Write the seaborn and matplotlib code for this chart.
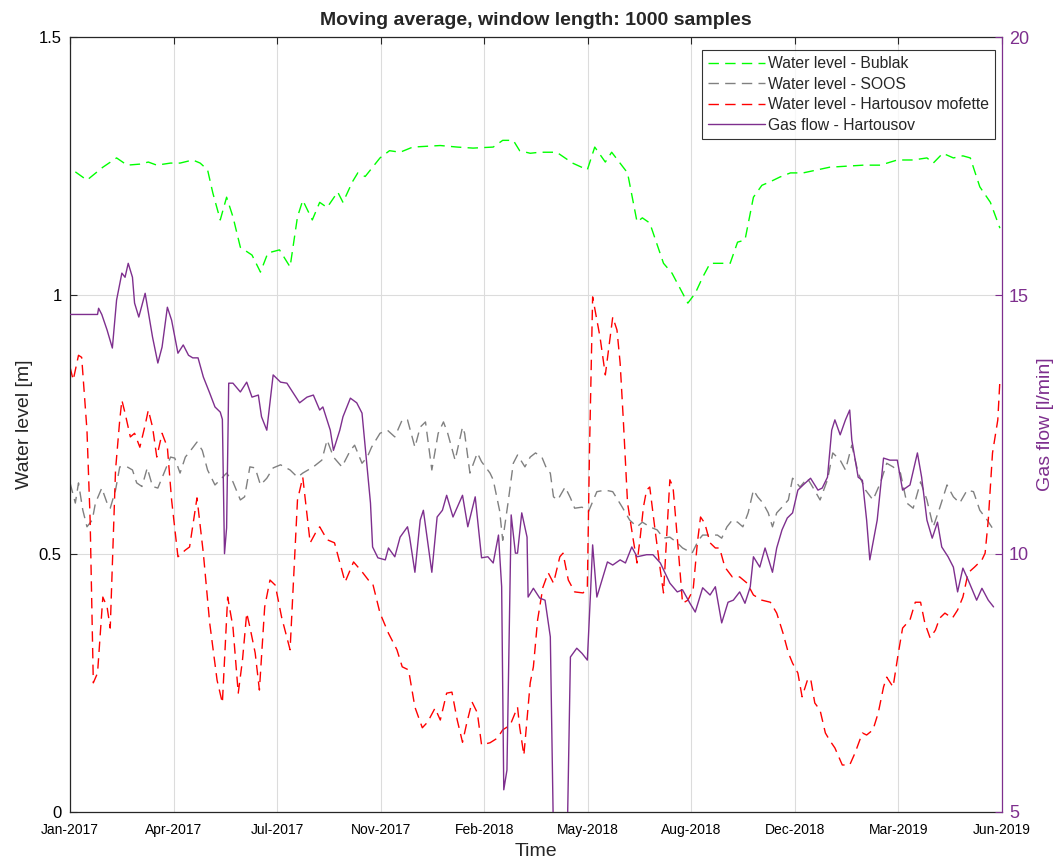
import numpy as np
import pandas as pd
import matplotlib
matplotlib.use("Agg")
import matplotlib.pyplot as plt
import seaborn as sns

# ---- Data (days since start of record, moving-average values) ----
tick_labels = ["Jan-2017", "Apr-2017", "Jul-2017", "Nov-2017", "Feb-2018",
               "May-2018", "Aug-2018", "Dec-2018", "Mar-2019", "Jun-2019"]
span_days = 881

bublak_days = [5, 16, 31, 44, 54, 66, 74, 82, 95, 104, 116, 123, 130, 135, 142, 148, 154, 161,
               172, 180, 187, 198, 208, 215, 220, 229, 236, 243, 253, 258, 267, 272, 279, 293,
               302, 312, 324, 350, 366, 381, 400, 409, 419, 425, 435, 444, 460, 475, 489, 496,
               506, 512, 527, 536, 541, 548, 561, 569, 584, 591, 598, 605, 624, 631, 638, 646,
               654, 662, 671, 681, 693, 718, 734, 750, 766, 782, 797, 810, 816, 825, 835, 844,
               851, 860, 870, 879]
bublak_level = [1.239, 1.223, 1.248, 1.266, 1.252, 1.254, 1.258, 1.252, 1.256, 1.256, 1.262,
                1.256, 1.243, 1.198, 1.146, 1.19, 1.152, 1.093, 1.078, 1.045, 1.082, 1.088,
                1.055, 1.152, 1.184, 1.146, 1.18, 1.17, 1.20, 1.18, 1.22, 1.237, 1.23, 1.266,
                1.28, 1.277, 1.287, 1.29, 1.287, 1.285, 1.287, 1.30, 1.30, 1.28, 1.275, 1.277,
                1.277, 1.256, 1.243, 1.287, 1.258, 1.277, 1.237, 1.142, 1.15, 1.14, 1.062,
                1.043, 0.985, 1.004, 1.035, 1.062, 1.062, 1.103, 1.107, 1.19, 1.213, 1.22,
                1.229, 1.237, 1.237, 1.248, 1.25, 1.252, 1.252, 1.262, 1.262, 1.266, 1.256,
                1.275, 1.266, 1.27, 1.266, 1.21, 1.18, 1.13]

soos_days = [0, 5, 8, 12, 16, 21, 24, 30, 35, 38, 43, 47, 54, 59, 63, 68, 73, 78, 83, 88, 95,
             99, 104, 109, 113, 120, 125, 130, 137, 142, 148, 154, 161, 165, 170, 175, 180, 186,
             192, 199, 208, 215, 220, 230, 238, 243, 249, 257, 265, 269, 276, 281, 285, 293,
             300, 307, 314, 319, 326, 331, 336, 342, 348, 353, 357, 364, 371, 373, 378, 385,
             389, 397, 400, 406, 409, 414, 419, 423, 430, 435, 440, 446, 451, 454, 457, 461,
             468, 473, 477, 484, 490, 498, 506, 513, 522, 529, 536, 541, 548, 555, 561, 567,
             574, 579, 588, 594, 598, 612, 616, 621, 626, 631, 636, 641, 646, 650, 655, 660,
             664, 668, 673, 679, 683, 690, 697, 702, 709, 716, 721, 728, 733, 739, 745, 752,
             759, 766, 772, 778, 785, 791, 797, 804, 810, 816, 822, 829, 835, 841, 848, 854,
             860, 867, 873]
soos_level = [0.637, 0.598, 0.637, 0.585, 0.552, 0.565, 0.598, 0.627, 0.598, 0.588, 0.623,
              0.668, 0.668, 0.662, 0.637, 0.630, 0.666, 0.630, 0.627, 0.652, 0.687, 0.685,
              0.656, 0.687, 0.697, 0.716, 0.70, 0.662, 0.633, 0.643, 0.656, 0.639, 0.604,
              0.610, 0.668, 0.666, 0.633, 0.646, 0.666, 0.672, 0.662, 0.648, 0.656, 0.668,
              0.681, 0.72, 0.687, 0.668, 0.70, 0.71, 0.675, 0.687, 0.706, 0.733, 0.739, 0.726,
              0.759, 0.759, 0.706, 0.745, 0.755, 0.662, 0.733, 0.755, 0.733, 0.681, 0.745,
              0.733, 0.656, 0.695, 0.678, 0.656, 0.643, 0.584, 0.526, 0.598, 0.675, 0.691,
              0.668, 0.687, 0.695, 0.687, 0.662, 0.656, 0.61, 0.604, 0.629, 0.608, 0.588,
              0.590, 0.581, 0.62, 0.623, 0.62, 0.59, 0.565, 0.552, 0.561, 0.552, 0.546, 0.53,
              0.532, 0.521, 0.511, 0.501, 0.526, 0.536, 0.536, 0.530, 0.552, 0.565, 0.561,
              0.552, 0.579, 0.623, 0.610, 0.598, 0.579, 0.552, 0.579, 0.590, 0.604, 0.646,
              0.629, 0.646, 0.629, 0.604, 0.643, 0.695, 0.681, 0.662, 0.71, 0.656, 0.623,
              0.604, 0.637, 0.675, 0.668, 0.656, 0.598, 0.588, 0.639, 0.604, 0.552, 0.588,
              0.633, 0.610, 0.598, 0.623, 0.620, 0.584, 0.565, 0.546]

mofette_days = [0, 3, 8, 11, 16, 19, 22, 26, 31, 35, 38, 43, 47, 49, 52, 57, 61, 66, 71, 74,
                78, 82, 87, 92, 96, 102, 109, 113, 120, 126, 132, 139, 144, 149, 154, 159, 163,
                167, 170, 175, 179, 184, 189, 194, 200, 208, 215, 220, 227, 232, 236, 243, 250,
                260, 268, 276, 282, 286, 293, 301, 309, 314, 320, 326, 333, 338, 345, 350, 356,
                361, 366, 371, 375, 380, 385, 389, 397, 404, 409, 416, 423, 425, 429, 435, 438,
                442, 447, 452, 457, 463, 466, 471, 477, 485, 489, 491, 494, 498, 501, 506, 509,
                513, 517, 520, 523, 527, 532, 536, 539, 542, 545, 548, 553, 558, 561, 564, 567,
                570, 575, 579, 584, 589, 593, 596, 600, 605, 610, 614, 619, 626, 633, 640, 646,
                654, 662, 668, 674, 679, 683, 688, 692, 697, 700, 704, 709, 714, 718, 723, 730,
                737, 742, 749, 753, 759, 764, 769, 772, 778, 783, 787, 794, 799, 804, 808, 813,
                818, 822, 827, 834, 839, 844, 849, 855, 862, 865, 868, 872, 877, 879]
mofette_level = [0.861, 0.836, 0.884, 0.880, 0.739, 0.565, 0.25, 0.269, 0.416, 0.397, 0.356,
                 0.662, 0.759, 0.797, 0.772, 0.726, 0.733, 0.706, 0.749, 0.778, 0.745, 0.687,
                 0.733, 0.706, 0.604, 0.494, 0.507, 0.513, 0.608, 0.501, 0.366, 0.255, 0.211,
                 0.416, 0.358, 0.23, 0.294, 0.385, 0.358, 0.308, 0.236, 0.397, 0.449, 0.439,
                 0.377, 0.314, 0.604, 0.648, 0.521, 0.540, 0.552, 0.527, 0.521, 0.445, 0.484,
                 0.465, 0.449, 0.443, 0.385, 0.346, 0.314, 0.281, 0.275, 0.203, 0.163, 0.174,
                 0.201, 0.178, 0.23, 0.232, 0.178, 0.135, 0.172, 0.213, 0.192, 0.13, 0.134,
                 0.143, 0.159, 0.168, 0.203, 0.165, 0.11, 0.25, 0.281, 0.372, 0.435, 0.463,
                 0.443, 0.494, 0.501, 0.449, 0.426, 0.424, 0.435, 0.695, 0.997, 0.952, 0.919,
                 0.846, 0.894, 0.958, 0.933, 0.869, 0.759, 0.598, 0.532, 0.482, 0.532, 0.590,
                 0.623, 0.629, 0.546, 0.468, 0.424, 0.532, 0.643, 0.629, 0.507, 0.404, 0.410,
                 0.43, 0.521, 0.571, 0.559, 0.521, 0.511, 0.511, 0.474, 0.455, 0.455, 0.443,
                 0.42, 0.41, 0.406, 0.385, 0.346, 0.308, 0.288, 0.269, 0.223, 0.255, 0.259,
                 0.211, 0.197, 0.153, 0.139, 0.124, 0.091, 0.091, 0.114, 0.153, 0.149, 0.159,
                 0.192, 0.242, 0.261, 0.242, 0.308, 0.356, 0.372, 0.406, 0.406, 0.366, 0.337,
                 0.352, 0.375, 0.385, 0.375, 0.391, 0.416, 0.463, 0.474, 0.488, 0.501, 0.565,
                 0.695, 0.759, 0.836]

gas_days = [0, 26, 27, 30, 35, 40, 44, 49, 52, 55, 59, 61, 65, 71, 78, 83, 87, 92, 96, 102,
            107, 112, 116, 121, 126, 132, 137, 142, 144, 146, 148, 150, 154, 161, 167, 172,
            178, 181, 186, 192, 199, 205, 211, 217, 224, 230, 236, 239, 246, 249, 255, 258,
            265, 271, 276, 279, 284, 286, 291, 298, 301, 307, 312, 319, 321, 326, 331, 334,
            342, 347, 352, 356, 362, 371, 376, 383, 389, 395, 400, 405, 408, 410, 413, 417,
            421, 423, 427, 432, 433, 438, 444, 449, 454, 457, 470, 473, 479, 484, 489, 492,
            494, 498, 508, 513, 520, 525, 531, 536, 545, 551, 558, 567, 574, 579, 586, 591,
            598, 605, 610, 616, 622, 627, 633, 638, 643, 646, 652, 657, 664, 668, 673, 678,
            683, 688, 693, 700, 707, 711, 716, 720, 723, 728, 733, 737, 739, 745, 749, 753,
            756, 763, 769, 775, 782, 787, 794, 801, 805, 810, 815, 820, 824, 830, 835, 839,
            844, 849, 857, 862, 868, 873]
gas_flow = [14.63, 14.63, 14.75, 14.63, 14.33, 13.98, 14.91, 15.43, 15.35, 15.62, 15.35,
            14.85, 14.58, 15.04, 14.19, 13.69, 14.0, 14.77, 14.52, 13.88, 14.04, 13.84, 13.79,
            13.79, 13.42, 13.11, 12.84, 12.74, 12.6, 10.0, 10.5, 13.3, 13.3, 13.13, 13.32,
            13.03, 13.07, 12.65, 12.39, 13.46, 13.32, 13.3, 13.11, 12.92, 13.03, 13.07, 12.78,
            12.84, 12.39, 12.0, 12.39, 12.65, 13.01, 12.92, 12.72, 12.06, 10.98, 10.13, 9.92,
            9.88, 10.11, 9.94, 10.32, 10.52, 10.32, 9.64, 10.65, 10.84, 9.64, 10.71, 10.84,
            11.13, 10.71, 11.13, 10.52, 11.10, 9.92, 9.94, 9.82, 10.36, 9.36, 5.43, 5.81,
            10.75, 10.01, 10.01, 10.79, 10.32, 9.16, 9.33, 9.14, 9.10, 8.39, 4.5, 4.5, 8.0,
            8.17, 8.07, 7.94, 9.24, 10.17, 9.16, 9.84, 9.78, 9.88, 9.82, 10.13, 9.94, 9.98,
            9.98, 9.82, 9.43, 9.26, 9.30, 9.04, 8.87, 9.34, 9.20, 9.36, 8.66, 9.06, 9.10,
            9.26, 9.04, 9.36, 9.94, 9.74, 10.11, 9.64, 10.11, 10.46, 10.69, 10.79, 11.23,
            11.33, 11.46, 11.23, 11.27, 11.48, 12.39, 12.59, 12.3, 12.59, 12.78, 12.2, 11.48,
            11.42, 10.65, 9.88, 10.65, 11.85, 11.81, 11.81, 11.23, 11.33, 11.95, 11.48,
            10.65, 10.30, 10.61, 10.13, 9.94, 9.74, 9.26, 9.72, 9.49, 9.10, 9.33, 9.10, 8.97]

# ---- Style ----
sns.set_style("white")
plt.rcParams["font.family"] = ["Liberation Sans", "DejaVu Sans"]
plt.rcParams["font.size"] = 10

purple = "#7E2F8E"
axis_col = "#262626"
dash = (0, (7.5, 4.5))

fig = plt.figure(figsize=(10.58, 8.63), dpi=100)
ax = fig.add_axes([0.0662, 0.0591, 0.8809, 0.8980])
ax2 = ax.twinx()

series = [
    (bublak_days, bublak_level, "#00FF00", "Water level - Bublak"),
    (soos_days, soos_level, "#808080", "Water level - SOOS"),
    (mofette_days, mofette_level, "#FF0000", "Water level - Hartousov mofette"),
]
for days, vals, col, lab in series:
    df = pd.DataFrame({"day": days, "value": vals})
    sns.lineplot(data=df, x="day", y="value", ax=ax, color=col, linewidth=1.0,
                 linestyle=dash, estimator=None, sort=False, label=lab, legend=False)

gas_df = pd.DataFrame({"day": gas_days, "flow": gas_flow})
sns.lineplot(data=gas_df, x="day", y="flow", ax=ax2, color=purple, linewidth=1.0,
             estimator=None, sort=False, label="Gas flow - Hartousov", legend=False)

# ---- Axes ----
ax.set_xlim(0, span_days)
ax.set_ylim(0, 1.5)
ax2.set_ylim(5, 20)
ax.set_xticks(np.linspace(0, span_days, len(tick_labels)))
ax.set_xticklabels(tick_labels)
ax.set_yticks([0, 0.5, 1, 1.5])
ax.set_yticklabels(["0", "0.5", "1", "1.5"])
ax2.set_yticks([5, 10, 15, 20])

ax.grid(True, color="#dcdcdc", linewidth=0.8)
ax.set_axisbelow(True)

ax.tick_params(axis="x", direction="in", length=5, top=True, colors=axis_col,
               labelsize=10, pad=8, labelcolor="black")
ax.tick_params(axis="y", direction="in", length=5, colors=axis_col, labelsize=12,
               labelcolor="black", pad=6)
ax2.tick_params(axis="y", direction="in", length=5, colors=purple, labelsize=13, pad=5)

for side in ["left", "bottom", "top"]:
    ax.spines[side].set_color(axis_col)
    ax.spines[side].set_linewidth(0.9)
    ax2.spines[side].set_visible(False)
ax.spines["right"].set_visible(False)
ax2.spines["right"].set_color(purple)
ax2.spines["right"].set_linewidth(0.9)

ax.set_xlabel("Time", fontsize=14, labelpad=4)
ax.set_ylabel("Water level [m]", fontsize=14, labelpad=4)
ax2.set_ylabel("Gas flow [l/min]", fontsize=14, color=purple, labelpad=6)
ax.set_title("Moving average, window length: 1000 samples", fontsize=14,
             fontweight="bold", pad=9)

handles = ax.get_lines()[:3] + ax2.get_lines()[:1]
labels = [h.get_label() for h in handles]
leg = ax2.legend(handles, labels, loc="upper right", bbox_to_anchor=(0.9925, 0.983),
                 frameon=True, fancybox=False, edgecolor="black", fontsize=11.3,
                 handlelength=3.6, handletextpad=0.2, borderpad=0.4, labelspacing=0.35,
                 borderaxespad=0.0)
leg.get_frame().set_linewidth(0.8)

fig.savefig("out.png", dpi=100)
